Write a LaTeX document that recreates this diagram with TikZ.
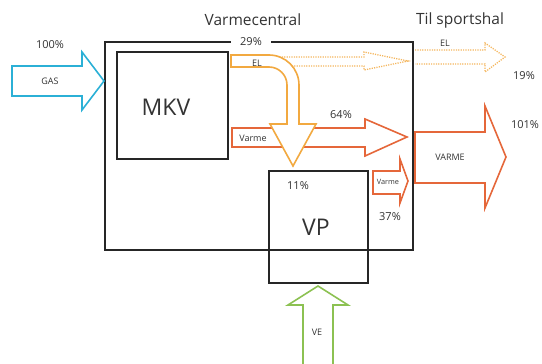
\documentclass[tikz,border=0pt]{standalone}
\usepackage{fontspec}
\setmainfont{Open Sans}
\definecolor{gasblue}{HTML}{2BB0D6}
\definecolor{elorange}{HTML}{F2A940}
\definecolor{varmered}{HTML}{E5673A}
\definecolor{vegreen}{HTML}{8CC152}
\definecolor{txt}{HTML}{333333}
\begin{document}
\begin{tikzpicture}[x=1pt,y=-1pt,
  blk/.style={draw=black!85,line width=2.2pt},
  outerbox/.style={draw=black!85,line width=1.8pt},
  flow/.style={line width=1.6pt,line join=miter},
  dotflow/.style={draw=elorange!85,line width=1.3pt,dash pattern=on 1.2pt off 1.2pt},
  lbl/.style={text=txt,font=\fontsize{9}{10}\selectfont,inner sep=1pt},
  pct/.style={text=txt,font=\fontsize{11}{12}\selectfont,inner sep=1pt},
  title/.style={text=txt,font=\fontsize{15.5}{17}\selectfont,inner sep=1pt},
  big/.style={text=txt,font=\fontsize{23}{25}\selectfont,inner sep=1pt}]
\useasboundingbox (0,0) rectangle (542,364);
% boxes
\draw[outerbox] (105,42) rectangle (413,250);
\node[pct,fill=white,inner xsep=9pt,inner ysep=2pt] (p29) at (251,42) {29\%};
\draw[blk] (117,52) rectangle (228,159);
\node[big] (mkv) at (166,107) {MKV};
\draw[blk] (269,171) rectangle (368,283);
\node[big] (vp) at (316,227) {VP};
% gas arrow
\draw[flow,draw=gasblue] (12,66) -- (82,66) -- (82,52) -- (104,81) -- (82,110) -- (82,96) -- (12,96) -- cycle;
\node[lbl] (gas) at (50,81) {GAS};
\node[pct] (p100) at (50,45) {100\%};
% varme arrow
\draw[flow,draw=varmered] (232,128) -- (365,128) -- (365,119) -- (407,137) -- (365,156) -- (365,147) -- (232,147) -- cycle;
\node[lbl] (varme1) at (253,138) {Varme};
\node[pct] (p64) at (341,115) {64\%};
% dotted EL arrows
\draw[dotflow] (277,57) -- (364,57) -- (364,52) -- (408,61) -- (364,70) -- (364,66) -- (277,66);
\draw[dotflow] (415,50) -- (485,50) -- (485,43) -- (505,57) -- (485,72) -- (485,64) -- (415,64);
\node[lbl] (el2) at (445,43) {EL};
\node[pct] (p19) at (524,76) {19\%};
% EL curved arrow
\draw[flow,draw=elorange,fill=white] (231,55) -- (269,55) arc[start angle=-90,end angle=0,radius=30] -- (299,124) -- (316,124) -- (293,166) -- (270,124) -- (287,124) -- (287,85) arc[start angle=0,end angle=-90,radius=18] -- (231,67) -- cycle;
\node[lbl] (el1) at (257,63) {EL};
% small varme arrow
\draw[flow,draw=varmered] (373,171) -- (400,171) -- (400,159) -- (408,181) -- (400,203) -- (400,194) -- (373,194) -- cycle;
\node[lbl,font=\fontsize{7.3}{8}\selectfont] (varme2) at (388,182) {Varme};
\node[pct] (p11) at (298,186) {11\%};
\node[pct] (p37) at (390,217) {37\%};
% big VARME arrow
\draw[flow,draw=varmered] (415,132) -- (485,132) -- (485,106) -- (506,157) -- (485,208) -- (485,183) -- (415,183) -- cycle;
\node[lbl] (varme3) at (450,157) {VARME};
\node[pct] (p101) at (525,125) {101\%};
% VE arrow
\draw[flow,draw=vegreen] (303,366) -- (303,305) -- (288,305) -- (318,286) -- (348,305) -- (333,305) -- (333,366);
\node[lbl] (ve) at (317,332) {VE};
% titles
\node[title] (t1) at (253,20) {Varmecentral};
\node[title] (t2) at (460,20) {Til sportshal};
\end{tikzpicture}
\end{document}
